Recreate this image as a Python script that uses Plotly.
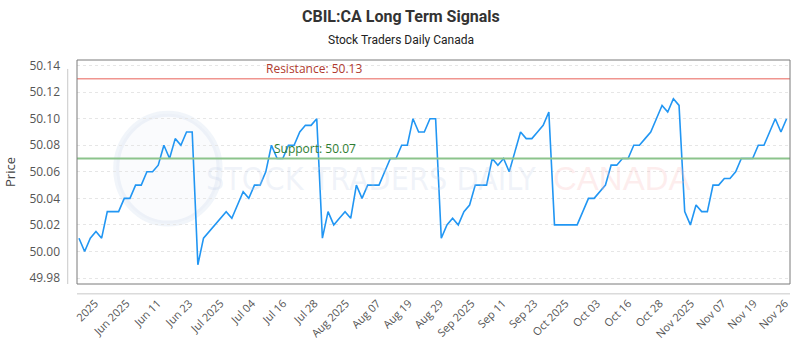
import plotly.graph_objects as go
import numpy as np

# ---- data ----
prices = [
    50.01, 50.00, 50.01, 50.015, 50.01, 50.03, 50.03, 50.03, 50.04, 50.04,
    50.05, 50.05, 50.06, 50.06, 50.065, 50.08, 50.07, 50.085, 50.08, 50.09,
    50.09, 49.99, 50.01, 50.015, 50.02, 50.025, 50.03, 50.025, 50.035, 50.045,
    50.04, 50.05, 50.05, 50.06, 50.08, 50.07, 50.07, 50.08, 50.08, 50.09,
    50.095, 50.095, 50.10, 50.01, 50.03, 50.02, 50.025, 50.03, 50.025, 50.05,
    50.04, 50.05, 50.05, 50.05, 50.06, 50.07, 50.07, 50.08, 50.08, 50.10,
    50.09, 50.09, 50.10, 50.10, 50.01, 50.02, 50.025, 50.02, 50.03, 50.035,
    50.05, 50.05, 50.05, 50.07, 50.065, 50.07, 50.06, 50.075, 50.09, 50.085,
    50.085, 50.09, 50.095, 50.105, 50.02, 50.02, 50.02, 50.02, 50.02, 50.03,
    50.04, 50.04, 50.045, 50.05, 50.065, 50.065, 50.07, 50.07, 50.08, 50.08,
    50.085, 50.09, 50.10, 50.11, 50.105, 50.115, 50.11, 50.03, 50.02, 50.035,
    50.03, 50.03, 50.05, 50.05, 50.055, 50.055, 50.06, 50.07, 50.07, 50.07,
    50.08, 50.08, 50.09, 50.10, 50.09, 50.10,
]
tick_labels = [
    "2025", "Jun 2025", "Jun 11", "Jun 23", "Jul 2025", "Jul 04", "Jul 16",
    "Jul 28", "Aug 2025", "Aug 07", "Aug 19", "Aug 29", "Sep 2025", "Sep 11",
    "Sep 23", "Oct 2025", "Oct 03", "Oct 16", "Oct 28", "Nov 2025", "Nov 07",
    "Nov 19", "Nov 26",
]
y_ticks = [49.98, 50.00, 50.02, 50.04, 50.06, 50.08, 50.10, 50.12, 50.14]
resistance = 50.13
support = 50.07
title_text = "CBIL:CA Long Term Signals"
subtitle_text = "Stock Traders Daily Canada"

x_idx = list(range(len(prices)))
n = len(prices)
tick_pos = list(np.linspace(2.85, n - 1.25, len(tick_labels)))

fig = go.Figure()

fig.add_trace(go.Scatter(
    x=x_idx, y=prices, mode="lines",
    line=dict(color="#2196f3", width=1.6),
    hoverinfo="skip", showlegend=False,
))

# support / resistance lines
fig.add_trace(go.Scatter(
    x=[-0.4, n - 0.4], y=[resistance, resistance], mode="lines",
    line=dict(color="#f0958f", width=1.5), showlegend=False, hoverinfo="skip"))
fig.add_trace(go.Scatter(
    x=[-0.4, n - 0.4], y=[support, support], mode="lines",
    line=dict(color="#8cc48c", width=2), showlegend=False, hoverinfo="skip"))

font_main = "Open Sans, Noto Sans, sans-serif"

fig.update_layout(
    width=800, height=350, autosize=False,
    margin=dict(l=77, r=9, t=60, b=64),
    paper_bgcolor="white", plot_bgcolor="white",
    font=dict(family=font_main, size=11, color="#555"),
    xaxis=dict(
        range=[-0.35, n - 0.4],
        tickmode="array", tickvals=tick_pos, ticktext=tick_labels,
        tickangle=-45, showgrid=False, zeroline=False,
        showline=False, ticks="", ticklabelstandoff=10,
        tickfont=dict(size=11, color="#555", family=font_main),
    ),
    yaxis=dict(
        range=[49.9755, 50.1442],
        tickmode="array", tickvals=y_ticks,
        ticktext=[f"{v:.2f}" for v in y_ticks],
        showgrid=True, gridcolor="#e6e6e6", griddash="dot", gridwidth=1,
        zeroline=False, showline=False, ticks="", ticklabelstandoff=16,
        tickfont=dict(size=12, color="#555", family=font_main),
        title=dict(text="Price", standoff=10,
                   font=dict(size=13, color="#444", family=font_main)),
    ),
)

# titles
fig.add_annotation(text=f"<b>{title_text}</b>", xref="paper", yref="paper",
                   x=0.455, y=1.195, xanchor="center", yanchor="middle",
                   showarrow=False,
                   font=dict(size=16, color="#333", family="Roboto, sans-serif"))
fig.add_annotation(text=subtitle_text, xref="paper", yref="paper",
                   x=0.455, y=1.09, xanchor="center", yanchor="middle",
                   showarrow=False,
                   font=dict(size=12, color="#222", family="Roboto, sans-serif"))

# frame around plot
fig.add_shape(type="rect", xref="paper", yref="paper", x0=0, x1=1, y0=0, y1=1,
              line=dict(color="#7a7a7a", width=1), layer="above")
# outer light axis lines
fig.add_shape(type="line", xref="paper", yref="paper", x0=-0.013, x1=-0.013,
              y0=0.0, y1=0.96, line=dict(color="#c8c8c8", width=1))
fig.add_shape(type="line", xref="paper", yref="paper", x0=0, x1=1,
              y0=-0.044, y1=-0.044, line=dict(color="#c8c8c8", width=1))

# watermark
fig.add_shape(type="circle", xref="paper", yref="paper",
              x0=0.055, x1=0.2, y0=0.27, y1=0.76,
              line=dict(color="rgba(180,198,225,0.18)", width=6),
              fillcolor="rgba(205,218,238,0.10)", layer="below")
fig.add_annotation(text="STOCK TRADERS DAILY", xref="paper", yref="paper",
                   x=0.178, y=0.47, xanchor="left", yanchor="middle",
                   showarrow=False,
                   font=dict(size=32, color="rgba(195,208,232,0.25)",
                             family="DejaVu Sans Condensed, DejaVu Sans, sans-serif"))
fig.add_annotation(text="CANADA", xref="paper", yref="paper",
                   x=0.665, y=0.47, xanchor="left", yanchor="middle",
                   showarrow=False,
                   font=dict(size=33, color="rgba(250,185,185,0.25)",
                             family="Liberation Sans, Arial, sans-serif"))

# labels for support / resistance
fig.add_annotation(text="Resistance: 50.13", xref="paper", y=resistance, yref="y",
                   x=0.262, xanchor="left", yanchor="bottom", showarrow=False,
                   font=dict(size=12, color="#b03a2e", family=font_main))
fig.add_annotation(text="Support: 50.07", xref="paper", y=support, yref="y",
                   x=0.273, xanchor="left", yanchor="bottom", showarrow=False,
                   font=dict(size=12, color="#2e7d32", family=font_main))

fig.write_html("out.html")
